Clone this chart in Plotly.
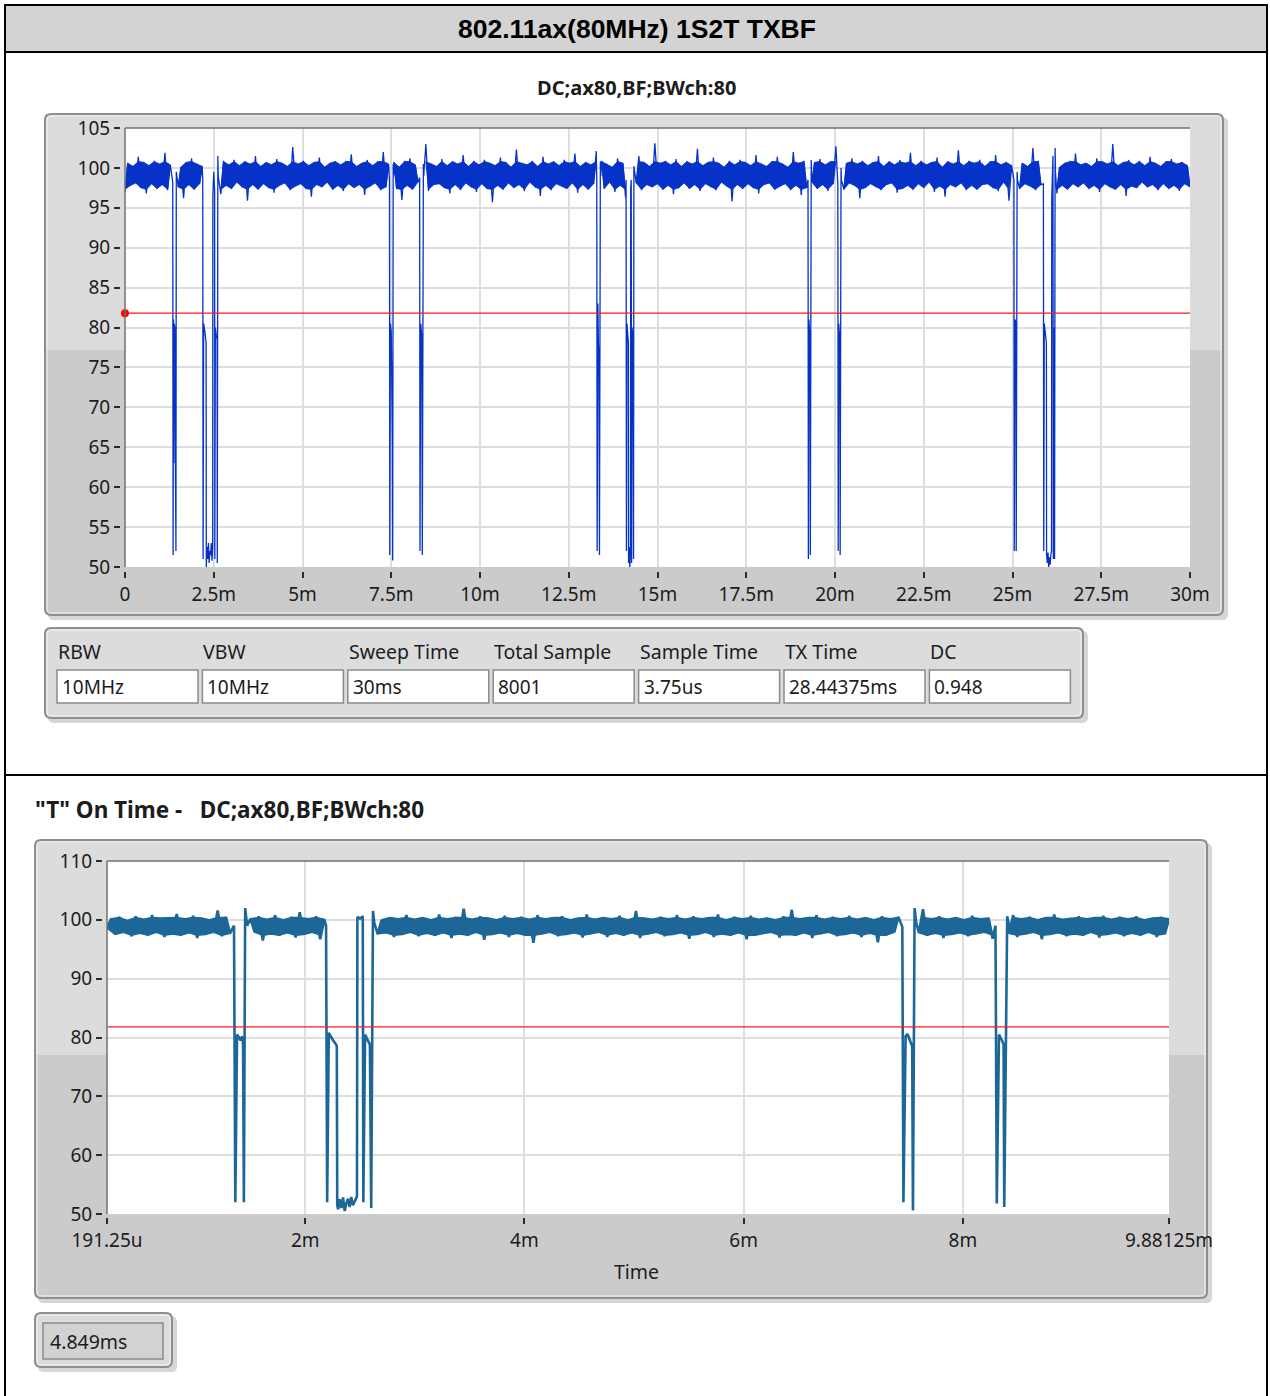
import plotly.graph_objects as go

# ---------------------------------------------------------------- data
top_span_ms = [0.0, 30.0]
top_noise_db = [
    97.0, 100.6, 97.8, 100.2, 98.1, 101.4, 97.5, 100.7, 96.8, 100.3, 98.0, 100.9, 97.4, 100.5, 97.9, 101.9, 97.2, 100.4, 98.2, 100.8,
    97.6, 100.1, 96.2, 100.7, 97.9, 101.2, 97.3, 100.5, 98.0, 100.2, 97.7, 102.2, 97.1, 100.6, 98.1, 100.3, 96.7, 100.9, 97.8, 100.4,
    97.4, 101.0, 98.2, 100.3, 97.6, 100.8, 95.9, 100.5, 97.9, 101.5, 97.3, 100.2, 98.0, 100.7, 97.5, 100.4, 96.9, 101.1, 97.8, 100.6,
    98.1, 100.2, 97.2, 102.6, 97.7, 100.5, 98.0, 100.9, 97.4, 100.3, 96.4, 100.7, 97.9, 101.3, 97.6, 100.1, 98.2, 100.6, 97.3, 100.8,
    97.8, 100.4, 97.1, 100.9, 98.0, 101.7, 97.5, 100.2, 97.9, 100.6, 96.6, 101.0, 97.7, 100.3, 98.1, 100.8, 97.2, 102.0, 97.6, 100.5,
    98.0, 100.7, 97.4, 100.1, 96.0, 100.9, 97.8, 101.2, 97.3, 100.4, 98.2, 100.6, 97.6, 103.0, 97.1, 100.5, 97.9, 100.2, 98.0, 101.1,
    97.5, 100.3, 96.8, 100.8, 97.9, 100.5, 97.2, 101.6, 98.1, 100.2, 97.6, 100.9, 97.0, 100.4, 98.0, 101.0, 97.4, 100.6, 95.7, 100.3,
    97.8, 101.3, 97.3, 100.7, 98.1, 100.1, 97.5, 102.3, 97.9, 100.6, 97.1, 100.4, 98.2, 100.9, 97.6, 100.2, 96.5, 101.4, 97.8, 100.5,
    97.2, 100.8, 98.0, 100.3, 97.7, 101.0, 97.4, 100.6, 98.1, 101.8, 96.9, 100.2, 97.9, 100.7, 97.3, 100.4, 98.0, 102.1, 97.6, 100.9,
    97.4, 100.5, 98.2, 100.1, 97.0, 101.2, 97.8, 100.6, 96.3, 100.8, 97.5, 100.3, 98.1, 101.5, 97.2, 100.7, 97.9, 100.2, 97.6, 103.1,
    98.0, 100.6, 97.3, 100.9, 97.8, 100.4, 96.7, 101.1, 97.5, 100.2, 98.1, 100.8, 97.4, 100.5, 97.9, 102.4, 97.1, 100.3, 98.0, 100.7,
    97.6, 101.3, 97.2, 100.6, 98.2, 100.1, 97.7, 100.9, 95.8, 100.4, 97.9, 101.0, 97.4, 100.7, 98.0, 100.3, 97.5, 101.6, 96.8, 100.5,
    97.9, 100.2, 98.1, 100.8, 97.3, 101.4, 97.7, 100.5, 98.0, 100.1, 97.2, 102.0, 97.8, 100.6, 96.6, 100.9, 97.5, 100.3, 98.2, 100.7,
    97.4, 101.1, 97.9, 100.4, 97.1, 100.8, 98.0, 102.7, 97.6, 100.2, 97.3, 100.6, 98.1, 101.2, 97.8, 100.5, 96.2, 100.9, 97.5, 100.3,
    98.0, 100.7, 97.6, 101.5, 97.2, 100.2, 97.9, 100.8, 98.1, 100.4, 96.9, 101.0, 97.4, 100.6, 97.8, 101.9, 97.3, 100.3, 98.0, 100.9,
    97.5, 100.4, 98.2, 100.7, 97.0, 101.3, 97.7, 100.1, 96.4, 100.8, 97.9, 100.5, 97.6, 102.2, 98.1, 100.3, 97.2, 100.9, 97.8, 100.6,
    97.3, 101.0, 97.9, 100.2, 98.0, 100.8, 97.5, 101.6, 97.1, 100.4, 98.2, 100.7, 95.9, 100.3, 97.8, 101.1, 97.4, 100.6, 98.0, 100.2,
    97.7, 102.5, 97.2, 100.9, 97.9, 100.4, 98.1, 100.7, 97.5, 101.3, 96.8, 100.1, 97.8, 100.6, 97.3, 100.9, 98.0, 101.8, 97.6, 100.4,
    98.1, 100.6, 97.4, 100.2, 97.8, 101.2, 97.0, 100.8, 98.0, 100.5, 97.6, 103.0, 97.3, 100.3, 97.9, 100.7, 96.5, 101.0, 97.7, 100.4,
    97.5, 100.9, 98.2, 100.3, 97.6, 101.4, 97.9, 100.6, 97.2, 100.2, 98.0, 100.8, 97.4, 101.1, 97.8, 100.5, 97.1, 100.7, 98.0, 100.3,
    97.6,
]
top_dip_ms = [
    [1.345, 1.355, 1.365, 1.375, 1.385, 1.395, 1.405, 1.42, 1.435, 1.445],
    [2.19, 2.20, 2.215, 2.25, 2.285, 2.29, 2.31, 2.33, 2.35, 2.37, 2.39, 2.41, 2.43, 2.45, 2.47, 2.475, 2.50, 2.525, 2.53, 2.545, 2.57, 2.595, 2.60, 2.615, 2.625],
    [7.45, 7.458, 7.475, 7.50, 7.53, 7.54, 7.555, 7.565],
    [8.30, 8.31, 8.33, 8.345, 8.36, 8.375, 8.405, 8.415],
    [13.29, 13.30, 13.32, 13.335, 13.35, 13.365, 13.39, 13.40],
    [14.115, 14.125, 14.14, 14.165, 14.18, 14.185, 14.20, 14.22, 14.24, 14.245, 14.26, 14.27, 14.285, 14.30, 14.31, 14.325, 14.335],
    [19.24, 19.25, 19.265, 19.28, 19.295, 19.305, 19.33, 19.34],
    [20.08, 20.09, 20.105, 20.12, 20.135, 20.145, 20.17, 20.18],
    [25.04, 25.05, 25.065, 25.08, 25.095, 25.105, 25.13, 25.14],
    [25.87, 25.88, 25.895, 25.92, 25.955, 25.96, 25.98, 26.00, 26.02, 26.04, 26.06, 26.08, 26.10, 26.105, 26.12, 26.14, 26.15, 26.165, 26.18, 26.185, 26.20, 26.21],
]
top_dip_db = [
    [98.2, 51.5, 81.0, 63.0, 80.5, 64.0, 80.0, 63.5, 52.0, 99.5],
    [98.5, 51.0, 80.5, 79.5, 78.0, 50.0, 52.5, 51.0, 53.0, 50.5, 52.0, 51.5, 53.0, 50.8, 52.5, 96.5, 99.5, 97.0, 51.0, 80.0, 79.0, 78.5, 50.5, 101.5, 99.0],
    [98.5, 51.5, 80.5, 79.5, 66.0, 50.8, 100.5, 99.0],
    [98.8, 52.0, 80.5, 79.5, 79.0, 51.5, 100.5, 99.0],
    [98.5, 52.0, 83.0, 78.0, 76.5, 51.5, 100.8, 99.0],
    [98.5, 52.0, 80.5, 79.0, 78.0, 50.5, 52.5, 50.0, 52.0, 97.5, 98.5, 50.5, 80.0, 79.0, 78.5, 51.0, 100.2],
    [98.5, 51.0, 81.0, 79.5, 78.5, 51.5, 101.0, 99.0],
    [98.0, 52.0, 80.5, 79.5, 78.5, 51.5, 100.0, 98.5],
    [98.5, 52.0, 80.5, 81.0, 79.0, 52.0, 99.5, 98.5],
    [98.0, 52.0, 80.5, 79.5, 78.0, 51.5, 50.5, 51.8, 50.0, 51.2, 50.3, 51.5, 52.0, 96.0, 99.0, 101.5, 51.0, 80.0, 79.0, 51.0, 102.5, 99.5],
]

bot_span_ms = [0.19125, 9.88125]
bot_noise_db = [
    98.6, 100.2, 97.5, 100.5, 97.9, 99.9, 97.2, 100.6, 97.7, 100.1, 97.4, 100.8, 97.9, 100.3, 97.1, 100.4, 97.6, 101.0, 97.3, 100.2,
    97.8, 100.7, 96.9, 100.3, 97.5, 100.0, 97.9, 101.6, 97.2, 100.5, 97.7, 100.1, 96.8, 100.7, 97.4, 100.2, 97.9, 100.6, 96.5, 100.1,
    97.6, 100.8, 97.3, 100.0, 97.8, 100.5, 97.0, 101.3, 97.5, 100.2, 97.9, 100.6, 96.7, 100.1, 97.4, 100.5, 97.7, 99.9, 97.2, 101.1,
    97.9, 100.2, 97.3, 100.6, 96.8, 100.7, 97.6, 100.0, 97.8, 100.4, 97.1, 100.2, 97.5, 100.8, 97.9, 100.1, 97.2, 100.4, 97.7, 100.0,
    97.3, 100.9, 97.8, 100.2, 96.9, 100.5, 97.6, 101.9, 97.3, 100.1, 97.9, 100.6, 96.6, 100.3, 97.5, 100.0, 97.8, 100.7, 97.1, 100.2,
    97.7, 100.5, 97.4, 100.1, 96.1, 100.8, 97.6, 100.2, 97.9, 100.4, 97.2, 100.6, 97.5, 100.0, 97.8, 100.3, 97.0, 100.9, 97.6, 100.1,
    97.9, 100.4, 97.1, 100.2, 97.7, 100.7, 97.3, 100.0, 97.8, 101.5, 96.9, 100.3, 97.6, 100.1, 97.9, 100.5, 97.2, 100.2, 97.5, 100.8,
    97.8, 100.1, 96.8, 100.6, 97.5, 100.2, 97.9, 100.4, 97.1, 100.9, 97.6, 100.0, 97.3, 100.5, 97.8, 100.2, 96.7, 100.7, 97.4, 100.1,
    97.7, 100.3, 97.9, 100.0, 97.0, 100.6, 97.5, 101.7, 97.3, 100.2, 97.8, 100.4, 96.9, 100.8, 97.6, 100.1, 97.9, 100.5, 97.2, 100.2,
    97.5, 100.7, 97.8, 100.1, 97.1, 100.4, 97.7, 100.0, 96.2, 100.6, 97.4, 100.2, 97.9, 100.5, 97.0, 100.3, 97.6, 100.1, 97.8, 101.8,
    97.3, 100.2, 97.7, 100.6, 96.9, 100.1, 97.5, 100.4, 97.8, 100.0, 97.2, 100.7, 97.6, 100.2, 97.9, 100.3, 96.8, 100.5, 97.4, 100.1,
    97.7, 100.8, 97.1, 100.2, 97.6, 100.5, 97.9, 100.0, 96.7, 100.4, 97.5, 100.9, 97.8, 100.1, 97.2, 100.3, 97.6, 100.6, 97.3, 100.2,
    97.9, 100.4, 97.0, 100.7, 97.5, 100.1, 97.8, 100.5, 97.2, 100.2, 97.7, 100.6, 97.4, 100.0, 97.9, 100.3, 97.1, 100.5, 97.6, 100.2,
]
bot_dip_ms = [
    [1.35, 1.362, 1.378, 1.395, 1.41, 1.425, 1.433, 1.44, 1.452, 1.47],
    [2.19, 2.20, 2.215, 2.235, 2.255, 2.275, 2.288, 2.292, 2.30, 2.315, 2.33, 2.345, 2.36, 2.375, 2.39, 2.405, 2.42, 2.435, 2.45, 2.465, 2.472, 2.476, 2.50, 2.525, 2.53, 2.546, 2.56, 2.575, 2.59, 2.602, 2.618, 2.63],
    [7.448, 7.458, 7.478, 7.495, 7.51, 7.525, 7.538, 7.545, 7.56, 7.575],
    [8.298, 8.31, 8.33, 8.345, 8.36, 8.372, 8.378, 8.405, 8.42],
]
bot_dip_db = [
    [99.0, 52.0, 80.5, 80.0, 79.5, 80.2, 78.8, 52.0, 102.0, 99.0],
    [99.0, 52.0, 80.8, 80.0, 79.5, 79.0, 78.6, 51.5, 50.8, 52.5, 51.0, 52.8, 50.5, 51.8, 52.6, 51.2, 52.9, 51.5, 52.2, 52.8, 53.0, 100.5, 100.2, 100.6, 52.0, 80.5, 80.0, 79.2, 78.8, 51.0, 101.5, 99.5],
    [98.8, 52.0, 80.2, 80.6, 79.8, 79.0, 78.5, 50.6, 102.0, 99.5],
    [99.0, 51.8, 80.5, 80.0, 79.4, 78.8, 51.2, 100.6, 99.2],
]

cursor_db = 81.8

top_xtick_ms = [0, 2.5, 5, 7.5, 10, 12.5, 15, 17.5, 20, 22.5, 25, 27.5, 30]
top_xtick_text = ["0", "2.5m", "5m", "7.5m", "10m", "12.5m", "15m", "17.5m", "20m", "22.5m", "25m", "27.5m", "30m"]
top_ytick = [50, 55, 60, 65, 70, 75, 80, 85, 90, 95, 100, 105]
bot_xtick_ms = [0.19125, 2, 4, 6, 8, 9.88125]
bot_xtick_text = ["191.25u", "2m", "4m", "6m", "8m", "9.88125m"]
bot_ytick = [50, 60, 70, 80, 90, 100, 110]

param_labels = ["RBW", "VBW", "Sweep Time", "Total Sample", "Sample Time", "TX Time", "DC"]
param_values = ["10MHz", "10MHz", "30ms", "8001", "3.75us", "28.44375ms", "0.948"]
on_time_text = "4.849ms"

main_title = "802.11ax(80MHz) 1S2T TXBF"
top_title = "DC;ax80,BF;BWch:80"
bottom_title = "\"T\" On Time -\u00a0\u00a0\u00a0DC;ax80,BF;BWch:80"
x_title = "Time"


# ---------------------------------------------------------------- helpers
def build(span, noise, dips_x, dips_y, thr, band):
    """Merge the sample grid with the dip samples; also return the dense
    noise body (between the upper and lower excursions) between dips."""
    n = len(noise)
    step = (span[1] - span[0]) / (n - 1)
    spans = sorted((min(dx), max(dx)) for dx in dips_x)
    noise_pts = [(span[0] + i * step, v) for i, v in enumerate(noise)]
    noise_pts = [p for p in noise_pts if not any(lo <= p[0] <= hi for lo, hi in spans)]
    dip_pts = [pt for dx, dy in zip(dips_x, dips_y) for pt in zip(dx, dy)]
    pts = sorted(noise_pts + dip_pts)
    segs = [[] for _ in range(len(spans) + 1)]
    for p in noise_pts:
        k = sum(1 for lo, hi in spans if lo < p[0])
        segs[k].append(p)
    bxs, bys = [], []
    for seg in segs:
        hi = [(x, min(v, band[1])) for x, v in seg if v >= thr]
        lo = [(x, max(v, band[0])) for x, v in seg if v < thr]
        if len(hi) < 2 or len(lo) < 2:
            continue
        poly = hi + lo[::-1] + [hi[0]]
        bxs += [p[0] for p in poly] + [None]
        bys += [p[1] for p in poly] + [None]
    return [p[0] for p in pts], [p[1] for p in pts], bxs, bys


W, H = 1270, 1396


def px(x):
    return x / W


def py(y):
    return 1 - y / H


shapes = []
annotations = []

FONT = "Noto Sans"
TXT = "#1c1c1c"


def rect(x0, y0, x1, y1, fill=None, line=None, lw=0, layer="below"):
    shapes.append(dict(type="rect", xref="paper", yref="paper",
                       x0=px(x0), x1=px(x1), y0=py(y1), y1=py(y0),
                       fillcolor=fill or "rgba(0,0,0,0)",
                       line=dict(color=line or "rgba(0,0,0,0)", width=lw),
                       layer=layer))


def rpath(x0, y0, x1, y1, r, round_top=True):
    def P(x, y):
        return f"{px(x):.6f},{py(y):.6f}"
    rt = r if round_top else 0
    return ("M " + P(x0 + rt, y0) + " L " + P(x1 - rt, y0) + " Q " + P(x1, y0) + " " + P(x1, y0 + rt)
            + " L " + P(x1, y1 - r) + " Q " + P(x1, y1) + " " + P(x1 - r, y1)
            + " L " + P(x0 + r, y1) + " Q " + P(x0, y1) + " " + P(x0, y1 - r)
            + " L " + P(x0, y0 + rt) + " Q " + P(x0, y0) + " " + P(x0 + rt, y0) + " Z")


def rrect(x0, y0, x1, y1, r, fill=None, line=None, lw=0, round_top=True):
    shapes.append(dict(type="path", xref="paper", yref="paper",
                       path=rpath(x0, y0, x1, y1, r, round_top),
                       fillcolor=fill or "rgba(0,0,0,0)",
                       line=dict(color=line or "rgba(0,0,0,0)", width=lw),
                       layer="below"))


def frame(x0, y0, x1, y1, split=None):
    rrect(x0 + 3, y0 + 3, x1 + 5, y1 + 5, 6, fill="#d6d6d6")
    rrect(x0, y0, x1, y1, 6, fill="#dcdcdc")
    if split is not None:
        rrect(x0 + 1, split, x1 - 1, y1 - 1, 5, fill="#cbcbcb", round_top=False)
    rrect(x0 + 2, y0 + 2, x1 - 2, y1 - 2, 5, line="#f2f2f2", lw=1)
    rrect(x0, y0, x1, y1, 6, line="#8e8e8e", lw=2)


def text(s, x, y, size, bold=False, xanchor="left", family=FONT, color=TXT):
    annotations.append(dict(text=s, x=px(x), y=py(y), xref="paper", yref="paper",
                            xanchor=xanchor, yanchor="middle", showarrow=False,
                            font=dict(size=size, family=family, color=color,
                                      weight="bold" if bold else "normal")))


# ---------------------------------------------------------------- page furniture
rect(5, 5, 1267, 52, fill="#d3d3d3")
rect(5, 5, 1267, 1420, line="#000000", lw=2)
rect(5, 5, 1267, 52, line="#000000", lw=2)
rect(5, 775, 1267, 775, line="#000000", lw=2)
text(main_title, 637, 29, 26.5, bold=True, xanchor="center", family="Liberation Sans", color="#000000")

# top chart frame + plot area
frame(45, 114, 1223, 615, split=350)
rect(125, 128, 1190, 567, fill="#ffffff")
text(top_title, 636, 88, 20, bold=True, xanchor="center")

# parameter table
frame(45, 628, 1083, 718)
for i, (lab, val) in enumerate(zip(param_labels, param_values)):
    bx = 57 + i * 145.4
    rect(bx, 670, bx + 141, 703, fill="#ffffff", line="#8a8a8a", lw=1.5)
    text(lab, bx - 1, 651, 19.5)
    text(val, bx + 3, 687, 19)

# bottom chart frame + plot area
text(bottom_title, 33, 810, 22.5, bold=True)
frame(35, 840, 1207, 1298, split=1055)
rect(107, 861, 1169, 1214, fill="#ffffff")
text(x_title, 636, 1271, 19.5, xanchor="center")

# on-time indicator
frame(35, 1313, 172, 1367)
rect(43, 1323, 163, 1359, fill="#d2d2d2", line="#8a8a8a", lw=1.5)
text(on_time_text, 48, 1341, 19.5)

# plot-area inner edge lines (left and top)
for x0, y0, x1, y1 in [(125, 128, 1190, 128), (125, 128, 125, 567),
                       (107, 861, 1169, 861), (107, 861, 107, 1214)]:
    shapes.append(dict(type="line", xref="paper", yref="paper",
                       x0=px(x0), x1=px(x1), y0=py(y0), y1=py(y1),
                       line=dict(color="#707070", width=1.5), layer="above"))

# ---------------------------------------------------------------- traces
tx, ty, tbx, tby = build(top_span_ms, top_noise_db, top_dip_ms, top_dip_db, 99.0, (97.3, 100.8))
bx_, by_, bbx, bby = build(bot_span_ms, bot_noise_db, bot_dip_ms, bot_dip_db, 99.0, (97.4, 100.4))

TOP_C = "#0632c8"
BOT_C = "#1c6797"

fig = go.Figure()
fig.add_trace(go.Scatter(x=tbx, y=tby, mode="lines", fill="toself", fillcolor=TOP_C,
                         line=dict(color=TOP_C, width=0.8), xaxis="x", yaxis="y", hoverinfo="skip"))
fig.add_trace(go.Scatter(x=tx, y=ty, mode="lines", line=dict(color=TOP_C, width=1.3),
                         xaxis="x", yaxis="y", hoverinfo="skip"))
fig.add_trace(go.Scatter(x=top_span_ms, y=[cursor_db, cursor_db], mode="lines",
                         line=dict(color="#ff1a1a", width=1.3), xaxis="x", yaxis="y", hoverinfo="skip"))
fig.add_trace(go.Scatter(x=[top_span_ms[0]], y=[cursor_db], mode="markers",
                         marker=dict(color="#ff0000", size=8), cliponaxis=False,
                         xaxis="x", yaxis="y", hoverinfo="skip"))
fig.add_trace(go.Scatter(x=bbx, y=bby, mode="lines", fill="toself", fillcolor=BOT_C,
                         line=dict(color=BOT_C, width=1.5), xaxis="x2", yaxis="y2", hoverinfo="skip"))
fig.add_trace(go.Scatter(x=bx_, y=by_, mode="lines", line=dict(color=BOT_C, width=2.6),
                         xaxis="x2", yaxis="y2", hoverinfo="skip"))
fig.add_trace(go.Scatter(x=bot_span_ms, y=[cursor_db, cursor_db], mode="lines",
                         line=dict(color="#ff1a1a", width=1.3), xaxis="x2", yaxis="y2", hoverinfo="skip"))

tickfont = dict(family=FONT, size=19, color=TXT)
common = dict(showgrid=True, gridcolor="#dedede", gridwidth=2, zeroline=False, showline=False,
              ticks="outside", ticklen=6, tickwidth=1.5, tickcolor="#2a2a2a", tickfont=tickfont,
              fixedrange=True, anchor="free", automargin=False)

fig.update_layout(
    width=W, height=H, autosize=False,
    margin=dict(l=0, r=0, t=0, b=0, pad=0, autoexpand=False),
    paper_bgcolor="#ffffff", plot_bgcolor="rgba(0,0,0,0)", showlegend=False,
    xaxis=dict(domain=[px(125), px(1190)], range=top_span_ms, position=py(571),
               tickmode="array", tickvals=top_xtick_ms, ticktext=top_xtick_text, **common),
    yaxis=dict(domain=[py(567), py(128)], range=[50, 105], position=px(120),
               tickmode="array", tickvals=top_ytick, **common),
    xaxis2=dict(domain=[px(107), px(1169)], range=bot_span_ms, position=py(1217),
                tickmode="array", tickvals=bot_xtick_ms, ticktext=bot_xtick_text, **common),
    yaxis2=dict(domain=[py(1214), py(861)], range=[50, 110], position=px(102),
                tickmode="array", tickvals=bot_ytick, **common),
    shapes=shapes, annotations=annotations,
)

fig.write_html("out.html", config={"displayModeBar": False},
               post_script="document.body.style.margin='0px';"
                           "document.documentElement.style.overflow='hidden';")
